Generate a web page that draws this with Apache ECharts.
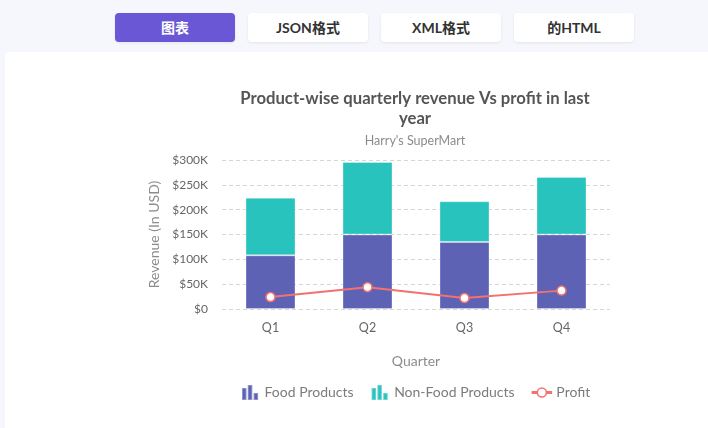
<!DOCTYPE html>
<html><head><meta charset="utf-8">
<script src="https://cdn.jsdelivr.net/npm/echarts@6/dist/echarts.min.js"></script>
<style>
html,body{margin:0;padding:0;width:708px;height:428px;overflow:hidden;background:#f6f7fc;font-family:Lato,"Noto Sans CJK SC",sans-serif;}
.tab{position:absolute;top:13px;width:120px;height:29px;border-radius:4px;background:#fff;box-shadow:0 1px 3px rgba(0,0,0,0.08);font-weight:bold;font-size:14px;color:#333;text-align:center;line-height:29px;font-family:Lato,"Noto Sans CJK SC",sans-serif;}
.tab.on{background:#6a57d6;color:#fff;}
#panel{position:absolute;left:5px;top:52px;width:703px;height:376px;background:#fff;border-top-left-radius:4px;}
#chart{position:absolute;left:0;top:0;width:708px;height:428px;}
</style></head>
<body>
<div class="tab on" style="left:115px">图表</div>
<div class="tab" style="left:248px">JSON格式</div>
<div class="tab" style="left:381px">XML格式</div>
<div class="tab" style="left:514px">的HTML</div>
<div id="panel"></div>
<div id="chart"></div>
<script>
const categories = ['Q1','Q2','Q3','Q4'];
const foodProducts = [108, 150, 135, 150];
const nonFoodProducts = [116, 146, 82, 116];
const profit = [24, 44, 22, 37];
const yTicks = [0, 50, 100, 150, 200, 250, 300];

const barIcon = 'path://M0,3H4.5V15H0Z M5.8,0H10.3V15H5.8Z M11.6,8H16.1V15H11.6Z';
const lineIcon = 'path://M0,3.7H5V5.3H0Z M14,3.7H19V5.3H14Z M14,4.5A4.5,4.5 0 1 1 5,4.5A4.5,4.5 0 1 1 14,4.5Z';
const chart = echarts.init(document.getElementById('chart'), null, {renderer:'canvas'});
const font = 'Lato';
chart.setOption({
  backgroundColor: 'transparent',
  textStyle: {fontFamily: font},
  title: {
    text: 'Product-wise quarterly revenue Vs profit in last\nyear',
    subtext: "Harry's SuperMart",
    left: 410, top: 84, textAlign: 'center',
    itemGap: 5,
    textStyle: {fontSize: 16.7, fontWeight: 'bold', color: '#555', lineHeight: 20, fontFamily: font},
    subtextStyle: {fontSize: 12.5, color: '#8c8c8c', fontFamily: font}
  },
  legend: {
    left: 236, top: 379, itemGap: 17, itemWidth: 19, itemHeight: 15,
    symbolKeepAspect: true,
    textStyle: {fontSize: 14, color: '#7c7c7c', fontFamily: font},
    data: [
      {name: 'Food Products', icon: barIcon},
      {name: 'Non-Food Products', icon: barIcon},
      {name: 'Profit', icon: lineIcon, itemStyle: {color: '#fff', borderColor: '#f2726f', borderWidth: 1.5}}
    ]
  },
  grid: {left: 222, right: 98, top: 160, bottom: 119},
  xAxis: {
    type: 'category', data: categories,
    name: 'Quarter', nameLocation: 'middle', nameGap: 45,
    nameTextStyle: {fontSize: 14, color: '#8c8c8c', fontFamily: font},
    axisLine: {show: false}, axisTick: {show: false},
    axisLabel: {fontSize: 12.5, color: '#666', margin: 12, fontFamily: font}
  },
  yAxis: {
    type: 'value', min: 0, max: 300, interval: 50,
    name: 'Revenue (In USD)', nameLocation: 'middle', nameGap: 60,
    nameTextStyle: {fontSize: 14, color: '#8c8c8c', fontFamily: font},
    axisLine: {show: false}, axisTick: {show: false},
    axisLabel: {fontSize: 12, color: '#666', margin: 14, fontFamily: font,
      formatter: v => yTicks.includes(v) ? '$' + v + (v ? 'K' : '') : ''},
    splitLine: {lineStyle: {type: [4,3], color: '#d6d6d6'}}
  },
  series: [
    {name: 'Food Products', type: 'bar', stack: 'rev', data: foodProducts, barWidth: 50,
     itemStyle: {color: '#5d62b5', borderColor: 'rgba(255,255,255,0.3)', borderWidth: 1}},
    {name: 'Non-Food Products', type: 'bar', stack: 'rev', data: nonFoodProducts, barWidth: 50,
     itemStyle: {color: '#29c3be', borderColor: 'rgba(255,255,255,0.3)', borderWidth: 1}},
    {name: 'Profit', type: 'line', data: profit, symbol: 'circle', symbolSize: 9,
     lineStyle: {color: '#f2726f', width: 2},
     itemStyle: {color: '#fff', borderColor: '#f2726f', borderWidth: 1.5}}
  ]
});
</script>
</body></html>
